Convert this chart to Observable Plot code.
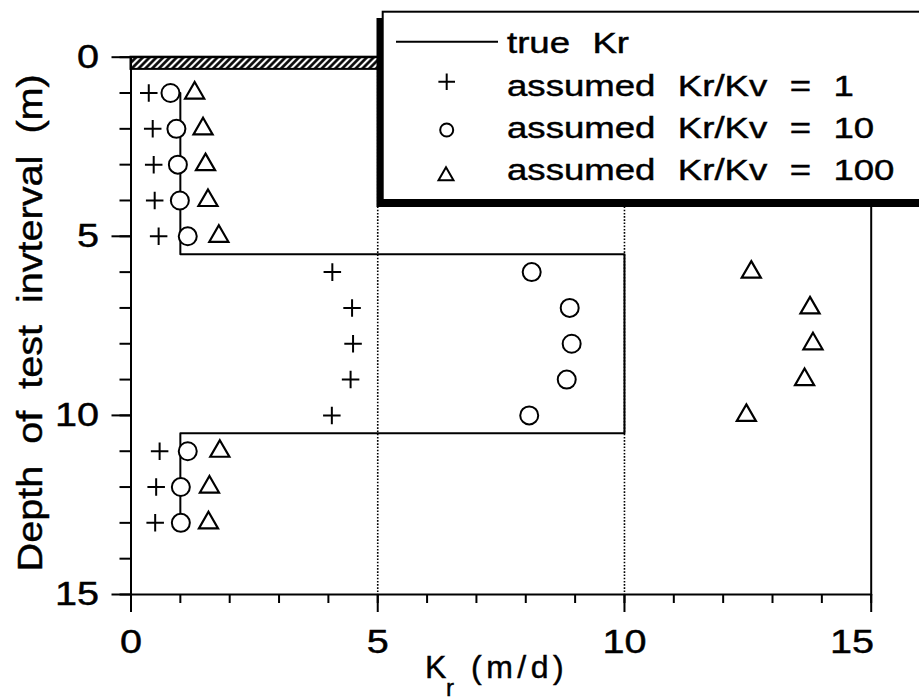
<!DOCTYPE html>
<html><head><meta charset="utf-8">
<script src="https://cdn.jsdelivr.net/npm/d3@7"></script>
<script src="https://cdn.jsdelivr.net/npm/@observablehq/plot@0.6"></script>
<style>
html,body{margin:0;padding:0;background:#fff;}
#wrap{position:relative;width:919px;height:700px;overflow:hidden;}
#wrap svg{font-family:"Liberation Sans",Arial,Helvetica,sans-serif;}
#wrap svg text{paint-order:stroke;stroke:#000;stroke-width:0.45px;}
</style></head><body><div id="wrap"></div>
<script>
// ---- data ----
const depth      = [1, 2, 3, 4, 5, 6, 7, 8, 9, 10, 11, 12, 13];
const krRatio1   = [0.36, 0.44, 0.46, 0.48, 0.56, 4.08, 4.48, 4.50, 4.45, 4.07, 0.58, 0.51, 0.49];
const krRatio10  = [0.80, 0.92, 0.95, 0.99, 1.15, 8.12, 8.89, 8.93, 8.83, 8.07, 1.15, 1.01, 1.01];
const krRatio100 = [1.29, 1.46, 1.51, 1.56, 1.78, 12.57, 13.76, 13.82, 13.65, 12.47, 1.80, 1.59, 1.57];
const trueDepth  = [1, 5.5, 5.5, 10.5, 10.5, 13];
const trueKr     = [1, 1, 10, 10, 1, 1];
const gridKr     = [5, 10];
const bandDepth  = [0, 0.34];
const bandKr     = [0, 15];
const majorTicks = [0, 5, 10, 15];
const minorTicks = [0, 1, 2, 3, 4, 5, 6, 7, 8, 9, 10, 11, 12, 13, 14, 15];
const legendLabels = ["true Kr", "assumed Kr/Kv = 1", "assumed Kr/Kv = 10", "assumed Kr/Kv = 100"];
const yTitle = "Depth of test invterval (m)";
const xTitleParts = ["K", "r", "(m/d)"];

const rows = (vals) => depth.map((d, i) => ({depth: d, kr: vals[i]}));
const lineRows = trueDepth.map((d, i) => ({depth: d, kr: trueKr[i]}));

const chart = Plot.plot({
  width: 919, height: 700,
  marginLeft: 130.5, marginRight: 48.3, marginTop: 56.7, marginBottom: 106,
  style: {background: "white", color: "black", overflow: "visible", fontFamily: '"Liberation Sans", Arial, sans-serif'},
  x: {domain: [0, 15]},
  y: {domain: [0, 15], reverse: true},
  marks: [
    Plot.ruleX(gridKr, {x: d => d, y1: bandDepth[1], y2: 15, stroke: "black", strokeWidth: 1.6, strokeDasharray: "1.6,1.6"}),
    Plot.rect([0], {x1: bandKr[0], x2: bandKr[1], y1: bandDepth[0], y2: bandDepth[1], fill: "url(#hatch)", stroke: "black", strokeWidth: 2}),
    Plot.frame({stroke: "black", strokeWidth: 2}),
    Plot.line(lineRows, {x: "kr", y: "depth", stroke: "black", strokeWidth: 2}),
    Plot.dot(rows(krRatio1), {x: "kr", y: "depth", symbol: "plus", r: 5.7, stroke: "black", strokeWidth: 2}),
    Plot.dot(rows(krRatio10), {x: "kr", y: "depth", symbol: "circle", r: 9, fill: "white", stroke: "black", strokeWidth: 2}),
    Plot.dot(rows(krRatio100), {x: "kr", y: "depth", symbol: "triangle", r: 7.1, fill: "none", stroke: "black", strokeWidth: 2.2}),
    Plot.axisY(minorTicks, {tickSize: 11, tickFormat: () => "", strokeWidth: 2, label: null}),
    Plot.axisY(majorTicks, {tickSize: 19, tickPadding: 13, fontSize: 33, strokeWidth: 2, label: null}),
    Plot.axisX(minorTicks, {tickSize: 9, tickFormat: () => "", strokeWidth: 2, label: null}),
    Plot.axisX(majorTicks, {tickSize: 18, tickPadding: 17, fontSize: 33, strokeWidth: 2, label: null}),
    Plot.text([yTitle], {text: d => d, frameAnchor: "left", textAnchor: "middle", rotate: -90, dx: -101, dy: -3, fontSize: 36})
  ]
});
document.getElementById("wrap").appendChild(chart);

const svg = d3.select(chart);
// hatch pattern for the surface band
const defs = svg.insert("defs", ":first-child");
const pat = defs.append("pattern").attr("id", "hatch").attr("patternUnits", "userSpaceOnUse")
  .attr("width", 4.8).attr("height", 4.8).attr("patternTransform", "rotate(45)");
pat.append("rect").attr("width", 4.8).attr("height", 4.8).attr("fill", "white");
pat.append("line").attr("x1", 2.4).attr("y1", 0).attr("x2", 2.4).attr("y2", 4.8).attr("stroke", "black").attr("stroke-width", 2.6);

// widen glyphs horizontally (the reference face is a wide Helvetica)
function widen(sel, sx) {
  sel.each(function () {
    const t = this.getAttribute("transform");
    if (t) this.setAttribute("transform", t + ` scale(${sx},1)`);
    else {
      const x = +this.getAttribute("x") || 0, y = +this.getAttribute("y") || 0;
      this.removeAttribute("x"); this.removeAttribute("y");
      this.setAttribute("transform", `translate(${x},${y}) scale(${sx},1)`);
    }
  });
}
widen(svg.selectAll('[aria-label="y-axis tick label"] text'), 1.2);
widen(svg.selectAll('[aria-label="x-axis tick label"] text'), 1.2);
widen(svg.selectAll('[aria-label="text"] text'), 1.1);
// the "15" label sits left of its tick in the reference
svg.selectAll('[aria-label="x-axis tick label"] text').filter(function () { return this.textContent === "15"; })
  .attr("dx", -16);
svg.selectAll('[aria-label="text"] text').style("word-spacing", "10px");

// x title with subscript
const xt = svg.append("text").attr("y", 678).attr("font-size", 32).attr("fill", "black").attr("text-anchor", "start");
xt.append("tspan").attr("x", 425).text(xTitleParts[0]);
xt.append("tspan").attr("x", 446).attr("font-size", 24).attr("dy", 18).text(xTitleParts[1]);
xt.append("tspan").attr("x", 471).attr("dy", -18).style("letter-spacing", "4.5px").text(xTitleParts[2]);

// legend overlay
const leg = d3.select("#wrap").append("svg").attr("width", 919).attr("height", 700)
  .style("position", "absolute").style("left", "0px").style("top", "0px")
  .style("font-family", '"Liberation Sans", Arial, sans-serif');
leg.append("rect").attr("x", 376.5).attr("y", 18).attr("width", 620).attr("height", 189).attr("fill", "black");
leg.append("rect").attr("x", 382.7).attr("y", 11.7).attr("width", 620).attr("height", 188.3).attr("fill", "white").attr("stroke", "black").attr("stroke-width", 2);
leg.append("line").attr("x1", 396).attr("x2", 498).attr("y1", 41.7).attr("y2", 41.7).attr("stroke", "black").attr("stroke-width", 2);
const baselines = [53.3, 95.5, 137.5, 180];
legendLabels.forEach((t, i) => {
  leg.append("text").attr("transform", `translate(507,${baselines[i]}) scale(1.22,1)`).attr("font-size", 30).attr("fill", "black")
    .attr("text-anchor", "start").style("word-spacing", "10px").text(t);
});
leg.append("path").attr("transform", "translate(446.7,81.7)").attr("d", d3.symbol(d3.symbolPlus, 92)()).attr("stroke", "black").attr("stroke-width", 2).attr("fill", "none");
leg.append("circle").attr("cx", 446.7).attr("cy", 130).attr("r", 6.5).attr("stroke", "black").attr("stroke-width", 2).attr("fill", "none");
leg.append("path").attr("transform", "translate(446,176)").attr("d", d3.symbol(d3.symbolTriangle, 97)()).attr("stroke", "black").attr("stroke-width", 2).attr("fill", "none");
</script></body></html>
